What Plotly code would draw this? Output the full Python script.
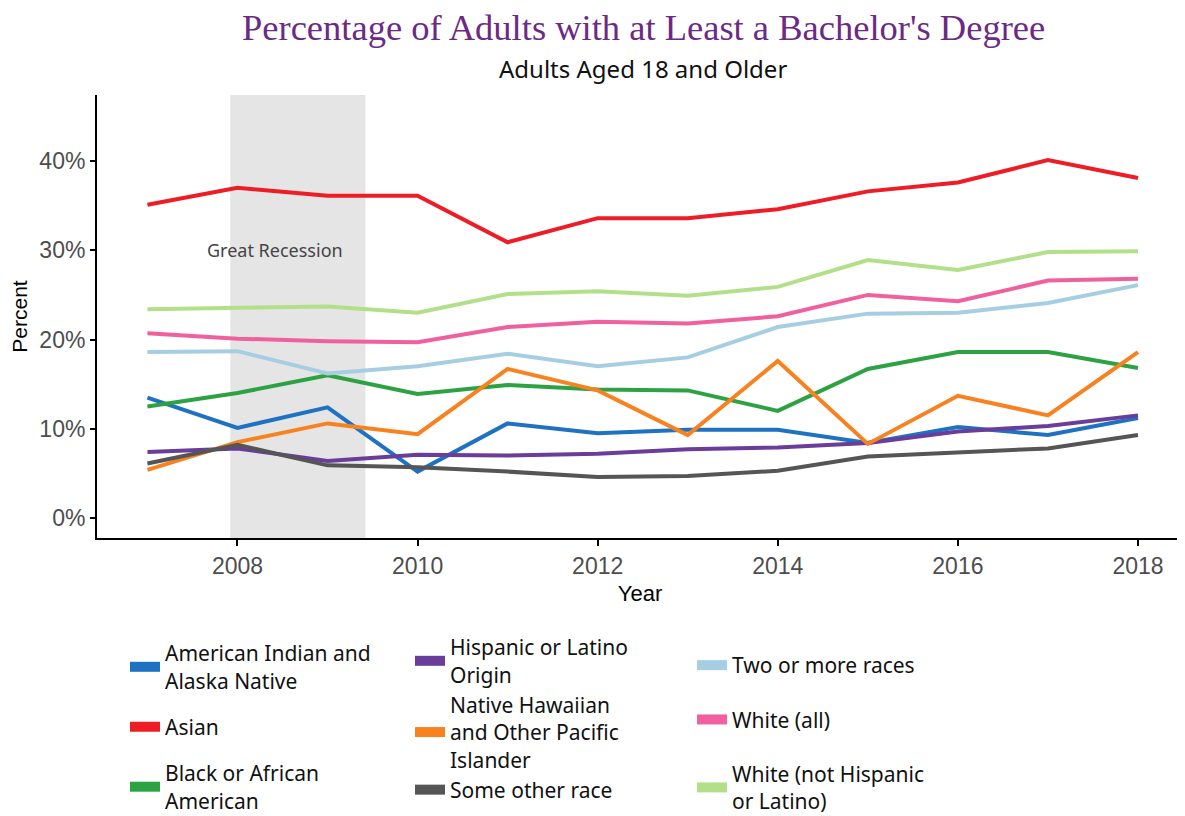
import plotly.graph_objects as go

years = [2007, 2008, 2009, 2010, 2011, 2012, 2013, 2014, 2015, 2016, 2017, 2018]

aian = [13.5, 10.1, 12.4, 5.2, 10.6, 9.5, 9.9, 9.9, 8.4, 10.2, 9.3, 11.2]
asian = [35.1, 37.0, 36.1, 36.1, 30.9, 33.6, 33.6, 34.6, 36.6, 37.6, 40.1, 38.1]
black = [12.5, 14.0, 16.0, 13.9, 14.9, 14.4, 14.3, 12.0, 16.7, 18.6, 18.6, 16.8]
hispanic = [7.4, 7.8, 6.4, 7.1, 7.0, 7.2, 7.7, 7.9, 8.4, 9.7, 10.3, 11.5]
nhpi = [5.4, 8.5, 10.6, 9.4, 16.7, 14.3, 9.3, 17.6, 8.3, 13.7, 11.5, 18.6]
other = [6.1, 8.2, 5.9, 5.7, 5.2, 4.6, 4.7, 5.3, 6.9, 7.4, 7.8, 9.3]
two_more = [18.6, 18.7, 16.2, 17.0, 18.4, 17.0, 18.0, 21.4, 22.9, 23.0, 24.1, 26.1]
white_all = [20.7, 20.1, 19.8, 19.7, 21.4, 22.0, 21.8, 22.6, 25.0, 24.3, 26.6, 26.8]
white_nh = [23.4, 23.6, 23.7, 23.0, 25.1, 25.4, 24.9, 25.9, 28.9, 27.8, 29.8, 29.9]

series_names = [
    "American Indian and<br>Alaska Native",
    "Asian",
    "Black or African<br>American",
    "Hispanic or Latino<br>Origin",
    "Native Hawaiian<br>and Other Pacific<br>Islander",
    "Some other race",
    "Two or more races",
    "White (all)",
    "White (not Hispanic<br>or Latino)",
]
series_values = [aian, asian, black, hispanic, nhpi, other, two_more, white_all, white_nh]
series_colors = ["#1f72c2", "#ee1c25", "#2ca243", "#6a3d9a", "#f7821f",
                 "#555555", "#a6cee3", "#f0609e", "#b2df8a"]
legend_column = ["legend", "legend", "legend", "legend2", "legend2", "legend2",
                 "legend3", "legend3", "legend3"]

y_tickvals = [0, 10, 20, 30, 40]
y_ticktext = ["0%", "10%", "20%", "30%", "40%"]
x_tickvals = [2008, 2010, 2012, 2014, 2016, 2018]

recession = [2007.92, 2009.42]
recession_label = "Great Recession"

# the page adds an 8px body margin, so work in figure coordinates (screen - 8)
W, H = 1177, 808
PLOT_LEFT, PLOT_RIGHT, PLOT_TOP, PLOT_BOTTOM = 89, 1175, 87, 530
PH = PLOT_BOTTOM - PLOT_TOP
PW = PLOT_RIGHT - PLOT_LEFT


def paper_y(px):
    return (PLOT_BOTTOM - px) / PH


def paper_x(px):
    return (px - PLOT_LEFT) / PW


fig = go.Figure()
for name, vals, col, lg in zip(series_names, series_values, series_colors, legend_column):
    fig.add_trace(go.Scatter(x=years, y=vals, mode="lines", name=name,
                             line=dict(color=col, width=4), showlegend=False))
    fig.add_trace(go.Scatter(x=[None], y=[None], mode="lines", name=name,
                             line=dict(color=col, width=14), legend=lg,
                             legendgroup=name, showlegend=True))

fig.add_shape(type="rect", xref="x", yref="paper", x0=recession[0], x1=recession[1],
              y0=0, y1=1, fillcolor="#e5e5e5", line=dict(width=0), layer="below")

fig.add_annotation(x=2008.42, y=30, xref="x", yref="y", text=recession_label,
                   showarrow=False, font=dict(family="Noto Sans", size=18, color="#444444"))

fig.add_annotation(x=paper_x(635), y=paper_y(19), xref="paper", yref="paper",
                   xanchor="center", yanchor="middle",
                   text="Percentage of Adults with at Least a Bachelor's Degree",
                   showarrow=False,
                   font=dict(family="Liberation Serif", size=36.5, color="#6b2a85"))
fig.add_annotation(x=paper_x(635), y=paper_y(60), xref="paper", yref="paper",
                   xanchor="center", yanchor="middle",
                   text="Adults Aged 18 and Older", showarrow=False,
                   font=dict(family="Noto Sans", size=24, color="#111111"))

legend_font = dict(family="Noto Sans", size=21, color="#111111")


def legend_box(xpx, ypx, gap):
    return dict(orientation="v", xref="paper", yref="container",
                x=paper_x(xpx), xanchor="left", y=1 - ypx / H, yanchor="top",
                tracegroupgap=gap, font=legend_font, bgcolor="rgba(0,0,0,0)")


fig.update_layout(
    width=W, height=H,
    margin=dict(l=PLOT_LEFT, r=W - PLOT_RIGHT, t=PLOT_TOP, b=H - PLOT_BOTTOM),
    plot_bgcolor="white", paper_bgcolor="white",
    xaxis=dict(range=[2006.44, 2018.5], tickvals=x_tickvals, automargin=False,
               showgrid=False, zeroline=False, showline=True, linecolor="black", linewidth=2,
               ticks="outside", ticklen=6, tickwidth=2, tickcolor="black",
               tickfont=dict(family="Liberation Sans", size=23, color="#4d4d4d"),
               title=dict(text="Year", font=dict(family="Liberation Sans", size=22, color="black"),
                          standoff=8)),
    yaxis=dict(range=[-2.24, 47.4], tickvals=y_tickvals, ticktext=y_ticktext, automargin=False,
               showgrid=False, zeroline=False, showline=True, linecolor="black", linewidth=2,
               ticks="outside", ticklen=5, tickwidth=2, tickcolor="black",
               tickfont=dict(family="Liberation Sans", size=23, color="#4d4d4d"),
               title=dict(text="Percent", font=dict(family="Liberation Sans", size=21, color="black"),
                          standoff=14)),
    legend=legend_box(117, 625, 16),
    legend2=legend_box(402, 619, 0),
    legend3=legend_box(684, 637, 24),
)

fig.write_html("out.html")
